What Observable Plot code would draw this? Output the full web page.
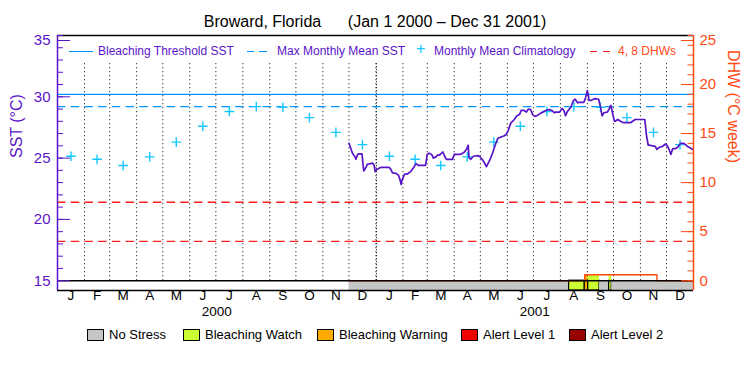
<!DOCTYPE html>
<html><head><meta charset="utf-8">
<script src="https://cdn.jsdelivr.net/npm/d3@7"></script>
<script src="https://cdn.jsdelivr.net/npm/@observablehq/plot@0.6"></script>
<style>
body{margin:0;background:#fff;font-family:"Liberation Sans",Arial,sans-serif;}
#wrap{position:relative;width:750px;height:375px;overflow:hidden;background:#fff;}
#title{position:absolute;left:0;top:12px;width:750px;text-align:center;font-size:16px;line-height:20px;white-space:pre;color:#000;z-index:2;}
#chart{position:absolute;left:0;top:25px;z-index:1;}
.tl{position:absolute;top:44px;font-size:12px;line-height:14px;color:#5a14c8;white-space:pre;z-index:3;}
.ln{position:absolute;top:51px;height:1.4px;z-index:3;}
.bl{position:absolute;top:328px;font-size:13px;line-height:14px;color:#000;white-space:pre;}
.bx{position:absolute;top:329px;width:15px;height:10px;border:1px solid #000;}
</style></head>
<body>
<div id="wrap">
  <div id="title"></div>
  <div id="chart"></div>
  <div id="topLegend"></div>
  <div id="bottomLegend"></div>
</div>
<script>
// ---------------- data ----------------
const titleText = "Broward, Florida      (Jan 1 2000 \u2013 Dec 31 2001)";
const years = ["2000", "2001"];
const monthLabels = ["J","F","M","A","M","J","J","A","S","O","N","D"];
const climatology = [25.15, 24.9, 24.4, 25.1, 26.3, 27.6, 28.8, 29.2, 29.15, 28.3, 27.1, 26.1];
const maxMonthlyMean = 29.2;
const bleachingThreshold = 30.2;
const dhwThresholds = [4, 8];
const sstTicks = [15, 20, 25, 30, 35];
const dhwTicks = [0, 5, 10, 15, 20, 25];

const sstDates = ["2000-12-01","2000-12-02","2000-12-04","2000-12-05","2000-12-08","2000-12-09","2000-12-11","2000-12-12","2000-12-16","2000-12-17","2000-12-18","2000-12-21","2000-12-22","2000-12-26","2000-12-28","2000-12-30","2000-12-31",
"2001-01-01","2001-01-04","2001-01-07","2001-01-16","2001-01-18","2001-01-20","2001-01-24","2001-01-27","2001-01-29","2001-01-30","2001-01-31",
"2001-02-03","2001-02-06","2001-02-10","2001-02-14","2001-02-16","2001-02-19","2001-02-27",
"2001-03-01","2001-03-03","2001-03-06","2001-03-08","2001-03-11","2001-03-13","2001-03-15","2001-03-19","2001-03-21","2001-03-23","2001-03-30",
"2001-04-01","2001-04-08","2001-04-12","2001-04-15","2001-04-17","2001-04-18","2001-04-20","2001-04-23","2001-04-28","2001-04-30",
"2001-05-03","2001-05-05","2001-05-08","2001-05-09","2001-05-12","2001-05-15","2001-05-18","2001-05-21","2001-05-24","2001-05-28","2001-05-31",
"2001-06-02","2001-06-05","2001-06-09","2001-06-12","2001-06-15","2001-06-17","2001-06-20","2001-06-23","2001-06-25","2001-06-28","2001-06-30",
"2001-07-03","2001-07-05","2001-07-09","2001-07-12","2001-07-16","2001-07-19","2001-07-22","2001-07-25","2001-07-27","2001-07-31",
"2001-08-03","2001-08-05","2001-08-07","2001-08-09","2001-08-13","2001-08-16","2001-08-18","2001-08-21","2001-08-22","2001-08-28","2001-08-30",
"2001-09-01","2001-09-02","2001-09-03","2001-09-05","2001-09-08","2001-09-10","2001-09-14","2001-09-16","2001-09-18","2001-09-20","2001-09-24","2001-09-26","2001-09-28","2001-09-29","2001-09-30",
"2001-10-02","2001-10-03","2001-10-06","2001-10-09","2001-10-12","2001-10-21","2001-10-23","2001-10-26",
"2001-11-06","2001-11-07","2001-11-08","2001-11-10","2001-11-12","2001-11-15","2001-11-18","2001-11-20","2001-11-22","2001-11-26","2001-11-30",
"2001-12-02","2001-12-04","2001-12-06","2001-12-08","2001-12-12","2001-12-14","2001-12-17","2001-12-21","2001-12-25","2001-12-28","2001-12-31"];
const sstValues = [26.2,26.0,25.6,25.4,25.1,24.9,25.3,25.35,25.35,24.6,23.95,24.3,24.5,24.55,24.6,24.4,23.9,
24.0,24.15,24.25,24.25,24.1,23.8,23.75,23.6,23.15,22.85,23.2,
23.7,23.7,23.9,24.3,24.55,24.4,24.4,
25.3,25.4,25.3,25.0,25.1,25.25,25.25,25.5,25.15,24.9,24.9,
25.3,25.3,25.45,25.7,26.05,25.05,24.9,25.15,25.2,25.15,
24.9,24.7,24.3,24.45,24.85,25.4,26.05,26.6,26.7,26.8,26.95,
27.25,27.85,28.15,28.45,28.55,28.9,28.9,28.75,29.0,28.95,28.55,
28.4,28.45,28.65,28.75,28.9,28.95,28.9,28.7,28.75,28.75,
29.05,28.9,28.45,28.8,29.15,29.7,29.8,29.5,29.55,29.55,29.95,
30.5,30.15,29.7,29.7,29.8,29.85,29.8,29.2,28.45,28.7,28.75,29.0,29.3,29.0,28.65,
28.05,28.0,28.15,28.0,27.9,27.9,28.0,28.15,
28.15,27.5,26.8,26.05,26.05,26.0,25.95,25.7,25.85,25.95,26.15,
26.0,25.7,25.3,25.75,25.8,25.9,26.2,26.2,25.95,25.85,25.7];

const dhwDates = ["2000-12-01","2001-08-29","2001-11-20","2001-12-31"];
const dhwValues = [0, 0.6, 0, 0];

const stressStarts = ["2000-12-01","2001-08-11","2001-08-29","2001-09-02","2001-09-15","2001-09-26","2001-09-29"];
const stressEnds   = ["2001-08-11","2001-08-29","2001-09-02","2001-09-15","2001-09-26","2001-09-29","2002-01-01"];
const stressLevels = [0, 1, 2, 1, 0, 1, 0];
const stressNames  = ["No Stress","Bleaching Watch","Bleaching Warning","Alert Level 1","Alert Level 2"];
const stressColors = ["#c6c6c6","#ccff33","#ffaa00","#ee0000","#990000"];

// ---------------- styles / layout constants ----------------
const purple = "#5a14c8", lineBlue = "#0096ff", plusCyan = "#14c8ff", dhwRed = "#ff1e1e", axisOrange = "#ff4a14";
const sstMin = 15, sstMax = 35, barBottom = 14.2, gridTop = 32.7;
const dhwToSst = d => sstMin + d * (sstMax - sstMin) / 25;

// ---------------- derived ----------------
const parse = d3.utcParse("%Y-%m-%d");
const x0 = new Date(Date.UTC(+years[0], 0, 1));
const x1 = new Date(Date.UTC(+years[years.length - 1] + 1, 0, 1));
const sst = sstDates.map((d, i) => ({date: parse(d), v: sstValues[i]}));
const dhw = dhwDates.map((d, i) => ({date: parse(d), v: dhwValues[i]}));
const dhwAt = t => { let v = 0; dhw.forEach(d => { if (+d.date <= +t) v = d.v; }); return v; };
const stress = stressStarts.map((s, i) => ({start: parse(s), end: parse(stressEnds[i]), level: stressLevels[i]}));
const months = [];
years.forEach(y => monthLabels.forEach((m, mi) => {
  const s = new Date(Date.UTC(+y, mi, 1)), e = new Date(Date.UTC(+y, mi + 1, 1));
  months.push({start: s, mid: new Date((+s + +e) / 2), label: m, clim: climatology[mi], yearStart: mi === 0});
}));
const yearMids = years.map(y => ({label: y, mid: new Date((Date.UTC(+y, 0, 1) + Date.UTC(+y + 1, 0, 1)) / 2)}));

document.getElementById("title").textContent = titleText;

const chart = Plot.plot({
  width: 750, height: 300,
  marginLeft: 57, marginRight: 57, marginTop: 10, marginBottom: 35,
  x: {type: "utc", domain: [x0, x1], axis: null},
  y: {domain: [barBottom, sstMax], axis: null},
  style: {background: "transparent", fontFamily: "Liberation Sans, Arial, sans-serif", fontSize: "15px", overflow: "visible"},
  marks: [
    // stress bar
    Plot.rect(stress, {x1: "start", x2: "end", y1: barBottom, y2: sstMin,
      fill: d => stressColors[d.level], stroke: d => d.level > 0 ? "black" : "none", strokeWidth: 1.2}),
    Plot.rect(stress.filter(d => d.level > 0 && dhwAt(d.start) > 0), {x1: "start", x2: "end", y1: sstMin,
      y2: d => dhwToSst(dhwAt(d.start)), fill: d => stressColors[d.level]}),
    // month dotted lines
    Plot.ruleX(months.filter(d => +d.start > +x0), {x: "start", y1: sstMin, y2: gridTop, stroke: "black", strokeWidth: 1, strokeDasharray: "1,3"}),
    Plot.ruleX(months.filter(d => d.yearStart && +d.start > +x0), {x: "start", y1: sstMin, y2: gridTop, stroke: "black", strokeWidth: 1, strokeDasharray: "1,2", dx: 0.5}),
    // threshold lines
    Plot.ruleY(dhwThresholds, {y: d => dhwToSst(d), stroke: dhwRed, strokeWidth: 1.3, strokeDasharray: "8.5,5.2"}),
    Plot.ruleY([maxMonthlyMean], {stroke: lineBlue, strokeWidth: 1.4, strokeDasharray: "8.5,5.2"}),
    Plot.ruleY([bleachingThreshold], {stroke: lineBlue, strokeWidth: 1.4}),
    // climatology
    Plot.dot(months, {x: "mid", y: "clim", symbol: "plus", r: 3.2, stroke: plusCyan, strokeWidth: 1.4}),
    // SST
    Plot.line(sst, {x: "date", y: "v", stroke: purple, strokeWidth: 1.7}),
    // DHW
    Plot.line(dhw, {x: "date", y: d => dhwToSst(d.v), curve: "step-after", stroke: axisOrange, strokeWidth: 1.4}),
    // frame lines
    Plot.ruleY([sstMin, barBottom, sstMax], {stroke: "black", strokeWidth: 1.4}),
    Plot.ruleX([x0], {y1: barBottom, y2: sstMax, stroke: purple, strokeWidth: 1.5}),
    Plot.ruleX([x1], {y1: barBottom, y2: sstMax, stroke: axisOrange, strokeWidth: 1.5}),
    // left axis
    Plot.axisY(d3.range(sstMin, sstMax + 1, 1), {anchor: "left", tickSize: -6, tickFormat: () => "", color: purple, label: null}),
    Plot.axisY(sstTicks.slice(0, -1), {anchor: "left", tickSize: -13, tickPadding: 20, color: purple, label: null, fontSize: 15}),
    Plot.axisY(sstTicks.slice(-1), {anchor: "left", tickSize: -13, tickPadding: 20, color: purple, label: null, fontSize: 15, dy: 5}),
    // right axis
    Plot.axisY(d3.range(0, 26, 1).map(dhwToSst), {anchor: "right", tickSize: -6.5, tickFormat: () => "", color: axisOrange, label: null}),
    Plot.axisY(dhwTicks.slice(0, -1).map(dhwToSst), {anchor: "right", tickSize: -13, tickPadding: 19, tickFormat: d => String(Math.round((d - sstMin) * 25 / (sstMax - sstMin))), color: axisOrange, label: null, fontSize: 15}),
    Plot.axisY(dhwTicks.slice(-1).map(dhwToSst), {anchor: "right", tickSize: -13, tickPadding: 19, tickFormat: d => String(Math.round((d - sstMin) * 25 / (sstMax - sstMin))), color: axisOrange, label: null, fontSize: 15, dy: 5}),
    // axis titles
    Plot.text(["SST (\u00B0C)"], {text: d => d, frameAnchor: "left", dx: -41, dy: -5, rotate: -90, fill: purple, fontSize: 16}),
    Plot.text(["DHW (\u00B0C week)"], {text: d => d, frameAnchor: "right", dx: 40, rotate: 90, fill: axisOrange, fontSize: 16}),
    // month & year labels
    Plot.text(months, {x: "mid", text: "label", frameAnchor: "bottom", dy: 9, fill: "black", fontSize: 13.5}),
    Plot.text(yearMids, {x: "mid", text: "label", frameAnchor: "bottom", dy: 25, fill: "black", fontSize: 13.5})
  ]
});
document.getElementById("chart").appendChild(chart);

// top legend
const tl = document.getElementById("topLegend");
const dashBg = c => `repeating-linear-gradient(to right, ${c} 0 7px, transparent 7px 12.5px)`;
const topItems = [
  {kind: "line", left: 69, width: 24, bg: lineBlue},
  {kind: "text", left: 98, text: "Bleaching Threshold SST"},
  {kind: "line", left: 247, width: 24, bg: dashBg(lineBlue)},
  {kind: "text", left: 277, text: "Max Monthly Mean SST"},
  {kind: "text", left: 416, text: "+", color: plusCyan, size: 16, top: 42},
  {kind: "text", left: 434, text: "Monthly Mean Climatology"},
  {kind: "line", left: 590, width: 24, bg: dashBg(dhwRed)},
  {kind: "text", left: 618, text: "4, 8 DHWs", color: axisOrange}
];
topItems.forEach(it => {
  const el = document.createElement("div");
  if (it.kind === "line") {
    el.className = "ln"; el.style.left = it.left + "px"; el.style.width = it.width + "px"; el.style.background = it.bg;
  } else {
    el.className = "tl"; el.style.left = it.left + "px"; el.textContent = it.text;
    if (it.color) el.style.color = it.color;
    if (it.size) { el.style.fontSize = it.size + "px"; el.style.top = it.top + "px"; }
  }
  tl.appendChild(el);
});

// bottom legend
const bl = document.getElementById("bottomLegend");
const boxLefts = [87, 183, 317, 461, 569];
stressNames.forEach((name, i) => {
  const b = document.createElement("div");
  b.className = "bx"; b.style.left = boxLefts[i] + "px"; b.style.background = stressColors[i];
  bl.appendChild(b);
  const t = document.createElement("div");
  t.className = "bl"; t.style.left = (boxLefts[i] + 22) + "px"; t.textContent = name;
  bl.appendChild(t);
});
</script>
</body></html>
